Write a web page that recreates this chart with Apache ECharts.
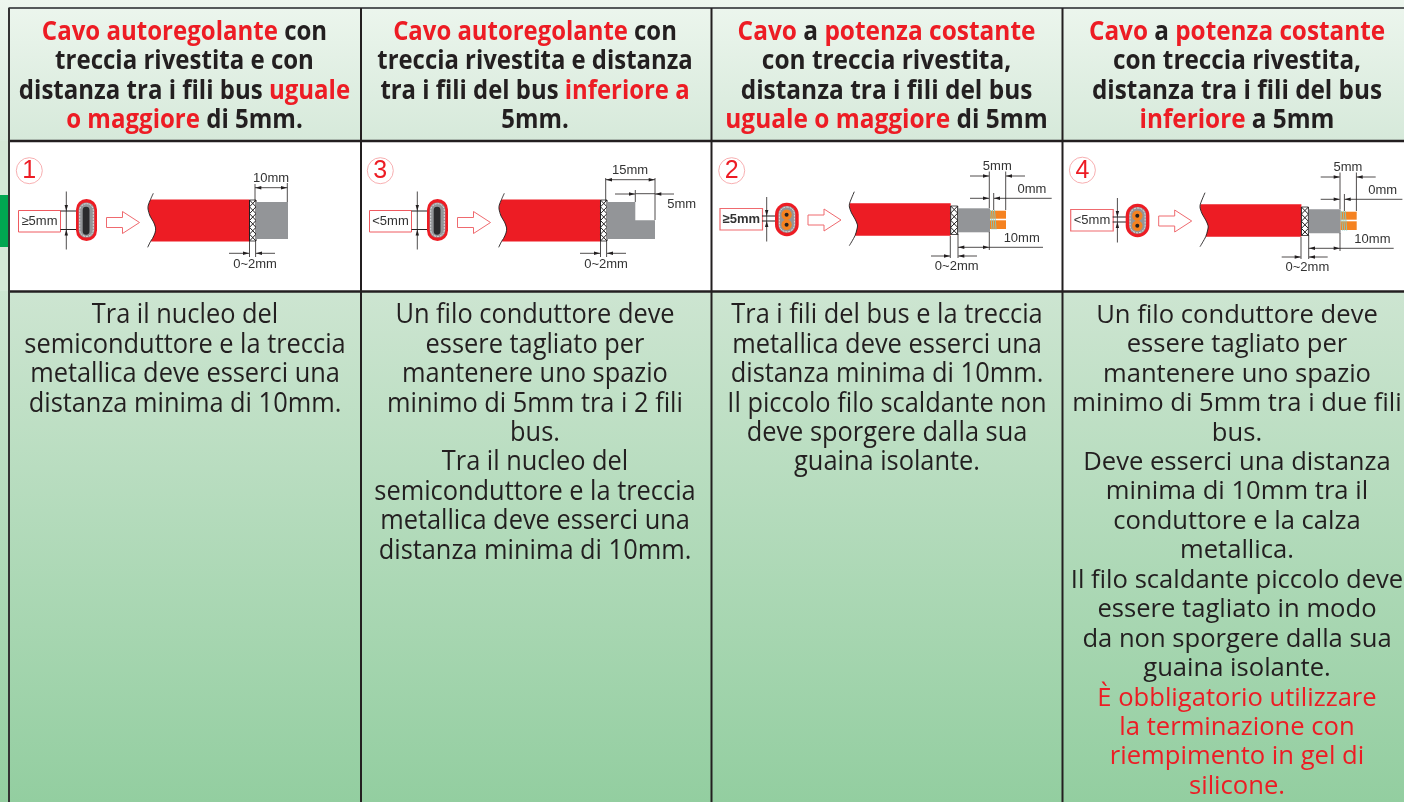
<!DOCTYPE html>
<html>
<head>
<meta charset="utf-8">
<title>Cavi scaldanti</title>
<style>
    html, body { margin: 0; padding: 0; background: #fff; }
    #chart { width: 1404px; height: 802px; }
</style>
<script src="https://cdn.jsdelivr.net/npm/echarts@6/dist/echarts.min.js"></script>
</head>
<body>
<div id="chart"></div>
<script>
var headerCol1 = ['{r|Cavo autoregolante} con', 'treccia rivestita e con', 'distanza tra i fili bus {r|uguale}', '{r|o maggiore} di 5mm.'];
var headerCol2 = ['{r|Cavo autoregolante} con', 'treccia rivestita e distanza', 'tra i fili del bus {r|inferiore a}', '5mm.'];
var headerCol3 = ['{r|Cavo} a {r|potenza costante}', 'con treccia rivestita,', 'distanza tra i fili del bus', '{r|uguale o maggiore} di 5mm'];
var headerCol4 = ['{r|Cavo} a {r|potenza costante}', 'con treccia rivestita,', 'distanza tra i fili del bus', '{r|inferiore} a 5mm'];

var bodyCol1 = ['Tra il nucleo del', 'semiconduttore e la treccia', 'metallica deve esserci una', 'distanza minima di 10mm.'];
var bodyCol2 = ['Un filo conduttore deve', 'essere tagliato per', 'mantenere uno spazio', 'minimo di 5mm tra i 2 fili', 'bus.', 'Tra il nucleo del',
    'semiconduttore e la treccia', 'metallica deve esserci una', 'distanza minima di 10mm.'];
var bodyCol3 = ['Tra i fili del bus e la treccia', 'metallica deve esserci una', 'distanza minima di 10mm.', 'Il piccolo filo scaldante non',
    'deve sporgere dalla sua', 'guaina isolante.'];
var bodyCol4 = ['Un filo conduttore deve', 'essere tagliato per', 'mantenere uno spazio', 'minimo di 5mm tra i due fili', 'bus.', 'Deve esserci una distanza',
    'minima di 10mm tra il', 'conduttore e la calza', 'metallica.', 'Il filo scaldante piccolo deve', 'essere tagliato in modo', 'da non sporgere dalla sua',
    'guaina isolante.', '{r|È obbligatorio utilizzare}', '{r|la terminazione con}', '{r|riempimento in gel di}', '{r|silicone.}'];

var panelNumbers = ['1', '3', '2', '4'];
var gapLabels = ['≥5mm', '<5mm', '≥5mm', '<5mm'];

var RED = '#ed1c24';
var INK = '#231f20';
var GREY = '#939598';
var ORANGE = '#f58220';
var LABEL = 'Liberation Sans, Arial, sans-serif';
var BODY = 'Open Sans, Noto Sans, sans-serif';

var g = [];

function rect(x, y, w, h, fill, extra) {
    extra = extra || {};
    g.push({ type: 'rect', shape: { x: x, y: y, width: w, height: h, r: extra.r || 0 },
        style: { fill: fill, stroke: extra.stroke || null, lineWidth: extra.lw || 0, lineDash: extra.dash || null } });
}

function line(x1, y1, x2, y2, color, lw) {
    g.push({ type: 'line', shape: { x1: x1, y1: y1, x2: x2, y2: y2 }, style: { stroke: color || INK, lineWidth: lw || 0.8 } });
}

function poly(points, fill, stroke, lw) {
    g.push({ type: 'polygon', shape: { points: points }, style: { fill: fill, stroke: stroke || null, lineWidth: lw || 0 } });
}

function curve(points) {
    g.push({ type: 'polyline', shape: { points: points, smooth: 0.3 }, style: { fill: null, stroke: INK, lineWidth: 0.9 } });
}

function circle(x, y, r, fill, stroke, lw) {
    g.push({ type: 'circle', shape: { cx: x, cy: y, r: r }, style: { fill: fill, stroke: stroke || null, lineWidth: lw || 0 } });
}

function label(text, x, y, size, color, weight) {
    g.push({ type: 'text', x: x, y: y, style: { text: text, fontFamily: LABEL, fontSize: size || 13, fill: color || '#333',
        fontWeight: weight || 'normal', align: 'center', verticalAlign: 'middle' } });
}

// small solid arrowhead, tip at x,y
function tip(x, y, dir) {
    var p = { r: [[x, y], [x - 6, y - 1.7], [x - 6, y + 1.7]], l: [[x, y], [x + 6, y - 1.7], [x + 6, y + 1.7]],
        d: [[x, y], [x - 1.7, y - 6], [x + 1.7, y - 6]], u: [[x, y], [x - 1.7, y + 6], [x + 1.7, y + 6]] }[dir];
    poly(p, INK);
}

function textLines(lines, cx, y0, step, size, scale, weight) {
    lines.forEach(function (t, i) {
        g.push({ type: 'text', x: cx, y: y0 + i * step, scaleX: scale, style: {
            text: t, fontFamily: BODY, fontSize: size, fontWeight: weight, fill: INK, align: 'center', verticalAlign: 'middle',
            rich: { r: { fill: RED, fontFamily: BODY, fontSize: size, fontWeight: weight } } } });
    });
}

function braid(x, y, w, h, cells) {
    rect(x, y, w, h, '#fff');
    var s = h / cells;
    for (var i = 0; i < cells; i++) {
        line(x, y + i * s, x + w, y + (i + 1) * s, INK, 1);
        line(x + w, y + i * s, x, y + (i + 1) * s, INK, 1);
    }
    line(x, y, x, y + h, INK, 1);
    line(x + w, y, x + w, y + h, INK, 1);
    line(x, y, x + w, y, INK, 0.8);
    line(x, y + h, x + w, y + h, INK, 0.8);
}

function badge(n, x, y) {
    circle(x, y, 13, '#fff', '#f6a6a8', 0.9);
    g.push({ type: 'text', x: x, y: y + 0.5, style: { text: n, fontFamily: LABEL, fontSize: 25, fill: RED, align: 'center', verticalAlign: 'middle' } });
}

function hollowArrow(x0, yc, dx) {
    var x = x0 + dx;
    poly([[x, yc - 5], [x + 16, yc - 5], [x + 16, yc - 11], [x + 33, yc], [x + 16, yc + 11], [x + 16, yc + 5], [x, yc + 5]], '#fff', '#ef6a6f', 1);
}

function shift(points, dx, dy) {
    return points.map(function (p) { return [p[0] + dx, p[1] + dy]; });
}

// self regulating cable, drawn for the panel at x offset dx
function panelFlat(idx, dx) {
    badge(panelNumbers[idx], 29.3 + dx, 170.7);
    rect(18.5 + dx, 210.5, 42, 21.5, '#fff', { stroke: '#ef5a60', lw: 1 });
    label(gapLabels[idx], 39.5 + dx, 221.3, 13);

    line(66.3 + dx, 191.5, 66.3 + dx, 249.5);
    line(60.5 + dx, 211, 80 + dx, 211, INK, 1);
    line(60.5 + dx, 229.5, 80 + dx, 229.5, INK, 1);
    tip(66.3 + dx, 211, 'd');
    tip(66.3 + dx, 229.5, 'u');

    rect(76 + dx, 199, 21, 42, RED, { r: 10.5 });
    rect(78.6 + dx, 202.6, 15.8, 35, GREY, { r: 7.5 });
    rect(79.7 + dx, 203.7, 13.6, 32.8, GREY, { r: 6.8, stroke: '#fff', lw: 0.7, dash: [2, 1] });
    rect(82.7 + dx, 206.7, 6.8, 28, '#2b2b2d', { r: 3.4 });

    hollowArrow(106.5, 222.5, dx);

    var edge = [[150.5, 199.5], [148.3, 205], [148, 209], [150, 216], [153.5, 222], [155.6, 228], [155, 233], [152.5, 238.5], [150.5, 241.5]];
    poly(shift(edge, dx, 0).concat([[249.5 + dx, 241.5], [249.5 + dx, 199.5]]), RED);
    curve(shift([[153.3, 193.3]].concat(edge, [[147.7, 247.3]]), dx, 0));
    braid(249.5 + dx, 200, 6.5, 41, 6);

    line(249.5 + dx, 241, 249.5 + dx, 257);
    line(255.6 + dx, 241, 255.6 + dx, 257);
    line(229 + dx, 253.3, 249 + dx, 253.3);
    line(256 + dx, 253.3, 275 + dx, 253.3);
    tip(249 + dx, 253.3, 'r');
    tip(256 + dx, 253.3, 'l');
    label('0~2mm', 255 + dx, 264.3, 13);
}

function panelOne() {
    rect(256, 202, 32, 37, GREY);
    line(255, 184, 255, 202);
    line(287.3, 183, 287.3, 202);
    line(255, 187.7, 287.3, 187.7);
    tip(255.3, 187.7, 'l');
    tip(287, 187.7, 'r');
    label('10mm', 271, 178.5, 13);
}

function panelThree() {
    poly([[606.7, 202], [635.3, 202], [635.3, 220.3], [655, 220.3], [655, 239], [606.7, 239]], GREY);
    line(605.7, 178, 605.7, 201);
    line(655, 178, 655, 220);
    line(605.7, 179.7, 655, 179.7);
    tip(606, 179.7, 'l');
    tip(654.7, 179.7, 'r');
    line(615, 194, 635, 194);
    line(635.3, 190, 635.3, 202);
    line(635.5, 193.7, 655, 193.7);
    tip(635, 194, 'r');
    line(655, 194, 674, 194);
    tip(655.3, 194, 'l');
    label('15mm', 630, 170.7, 13);
    label('5mm', 681.7, 204.3, 13);
}

// constant power cable, the two conductors shown in orange
function panelRound(idx, dx, dy, boldGap) {
    badge(panelNumbers[idx], 731.7 + dx, 170.7 + dy - (dy ? 1.5 : 0));
    rect(720 + dx, 208.5 + dy, 42.5, 21.5, '#fff', { stroke: '#ef6a6f', lw: 1.2 });
    label(gapLabels[idx], 741.3 + dx, 219.2 + dy, 13, '#333', boldGap ? 'bold' : 'normal');

    line(766.7 + dx, 197 + dy, 766.7 + dx, 241.5 + dy);
    line(762 + dx, 216 + dy, 778 + dx, 216 + dy, INK, 1);
    line(762 + dx, 221 + dy, 778 + dx, 221 + dy, INK, 1);
    tip(766.7 + dx, 216 + dy, 'd');
    tip(766.7 + dx, 221 + dy, 'u');

    rect(775 + dx, 202.7 + dy, 23.7, 33.5, RED, { r: 11.8 });
    rect(778.4 + dx, 206 + dy, 17, 26.8, GREY, { r: 8 });
    rect(779.4 + dx, 207 + dy, 15, 24.8, GREY, { r: 7.4, stroke: '#fff', lw: 0.7, dash: [2, 1] });
    circle(786.6 + dx, 214.7 + dy, 5.2, ORANGE);
    circle(786.6 + dx, 224.7 + dy, 5.2, ORANGE);
    circle(786.6 + dx, 214.7 + dy, 2, '#231f20');
    circle(786.6 + dx, 224.7 + dy, 2, '#231f20');

    hollowArrow(808, 220 + dy, dx);

    var edge = [[849.6, 203.3], [849.4, 207], [851.5, 213], [855, 219], [857.5, 225], [857, 229], [855, 235.7]];
    poly(shift(edge, dx, dy).concat([[950.7 + dx, 235.7 + dy], [950.7 + dx, 203.3 + dy]]), RED);
    curve(shift([[854.3, 191.7]].concat(edge, [[849.3, 245.7]]), dx, dy));
    braid(950.7 + dx, 206 + dy, 7, 28.5, 4);

    rect(958 + dx, 208.3 + dy, 32, 24, GREY);
    rect(990 + dx, 210.7 + dy, 16, 8, ORANGE);
    rect(990 + dx, 220.3 + dy, 16, 8.7, ORANGE);
    for (var i = 0; i < 3; i++) {
        line(990.5 + i * 2 + dx, 210 + dy, 992 + i * 2 + dx, 229.5 + dy, '#7fcbc4', 0.9);
    }

    // 5mm
    line(989.3 + dx, 171.5 + dy, 989.3 + dx, 208 + dy);
    line(1005.7 + dx, 171.5 + dy, 1005.7 + dx, 210 + dy);
    line(970 + dx, 176 + dy, 989 + dx, 176 + dy);
    tip(989 + dx, 176 + dy, 'r');
    line(1006 + dx, 176 + dy, 1025 + dx, 176 + dy);
    tip(1006 + dx, 176 + dy, 'l');
    label('5mm', 997.3 + dx, 166.9 + dy, 13);
    // 0mm
    line(970 + dx, 198.3 + dy, 989 + dx, 198.3 + dy);
    tip(989 + dx, 198.3 + dy, 'r');
    line(993.7 + dx, 193 + dy, 993.7 + dx, 210 + dy);
    line(994 + dx, 198.3 + dy, 1051.7 + dx, 198.3 + dy);
    tip(994 + dx, 198.3 + dy, 'l');
    label('0mm', 1032 + dx, 189.2 + dy, 13);
    // 10mm
    line(958 + dx, 234 + dy, 958 + dx, 258 + dy);
    line(989.3 + dx, 232 + dy, 989.3 + dx, 250 + dy);
    line(958 + dx, 247.3 + dy, 1043 + dx, 247.3 + dy);
    tip(958.3 + dx, 247.3 + dy, 'l');
    tip(989 + dx, 247.3 + dy, 'r');
    label('10mm', 1021.7 + dx, 238.9 + dy, 13);
    // 0~2mm
    line(950.3 + dx, 236 + dy, 950.3 + dx, 258 + dy);
    line(931 + dx, 256 + dy, 950 + dx, 256 + dy);
    tip(950 + dx, 256 + dy, 'r');
    line(958.3 + dx, 256 + dy, 977 + dx, 256 + dy);
    tip(958.3 + dx, 256 + dy, 'l');
    label('0~2mm', 956.7 + dx, 266.8 + dy, 13);
}

function vGrad(stops) {
    return new echarts.graphic.LinearGradient(0, 0, 0, 1, stops.map(function (c, i) { return { offset: i / (stops.length - 1), color: c }; }));
}

// backgrounds
rect(0, 0, 1404, 141, vGrad(['#edf6ee', '#d6e9da']));
rect(0, 141, 1404, 151, '#d4e8d7');
rect(0, 195, 9, 52, '#00a651');
rect(9, 142, 1395, 149, '#fff');
rect(0, 291, 1404, 511, vGrad(['#cde5d1', '#93cea0']));

// table rules
line(8.5, 8, 1404, 8, '#55595a', 2);
line(8.5, 141, 1404, 141, INK, 2.4);
line(8.5, 291.5, 1404, 291.5, INK, 2.4);
[9, 361, 711.5, 1062.5].forEach(function (x, i) {
    line(x, 8, x, 802, i === 0 ? '#333' : INK, 2);
});

// headers
textLines(headerCol1, 184.5, 32, 29.5, 27, 0.89, 'bold');
textLines(headerCol2, 535, 32, 29.5, 27, 0.885, 'bold');
textLines(headerCol3, 886.5, 32, 29.5, 27, 0.905, 'bold');
textLines(headerCol4, 1237, 32, 29.5, 27, 0.9, 'bold');

// body
textLines(bodyCol1, 185, 315.5, 29.44, 27, 0.94, 'normal');
textLines(bodyCol2, 535, 315.5, 29.44, 27, 0.94, 'normal');
textLines(bodyCol3, 887, 315.5, 29.44, 27, 0.94, 'normal');
textLines(bodyCol4, 1237, 315.5, 29.44, 25.6, 1, 'normal');

// cable diagrams
panelFlat(0, 0);
panelOne();
panelFlat(1, 351);
panelThree();
panelRound(2, 0, 0, true);
panelRound(3, 350.7, 1, false);

var chart = echarts.init(document.getElementById('chart'));
chart.setOption({
    animation: false,
    graphic: { elements: g }
});
</script>
</body>
</html>
